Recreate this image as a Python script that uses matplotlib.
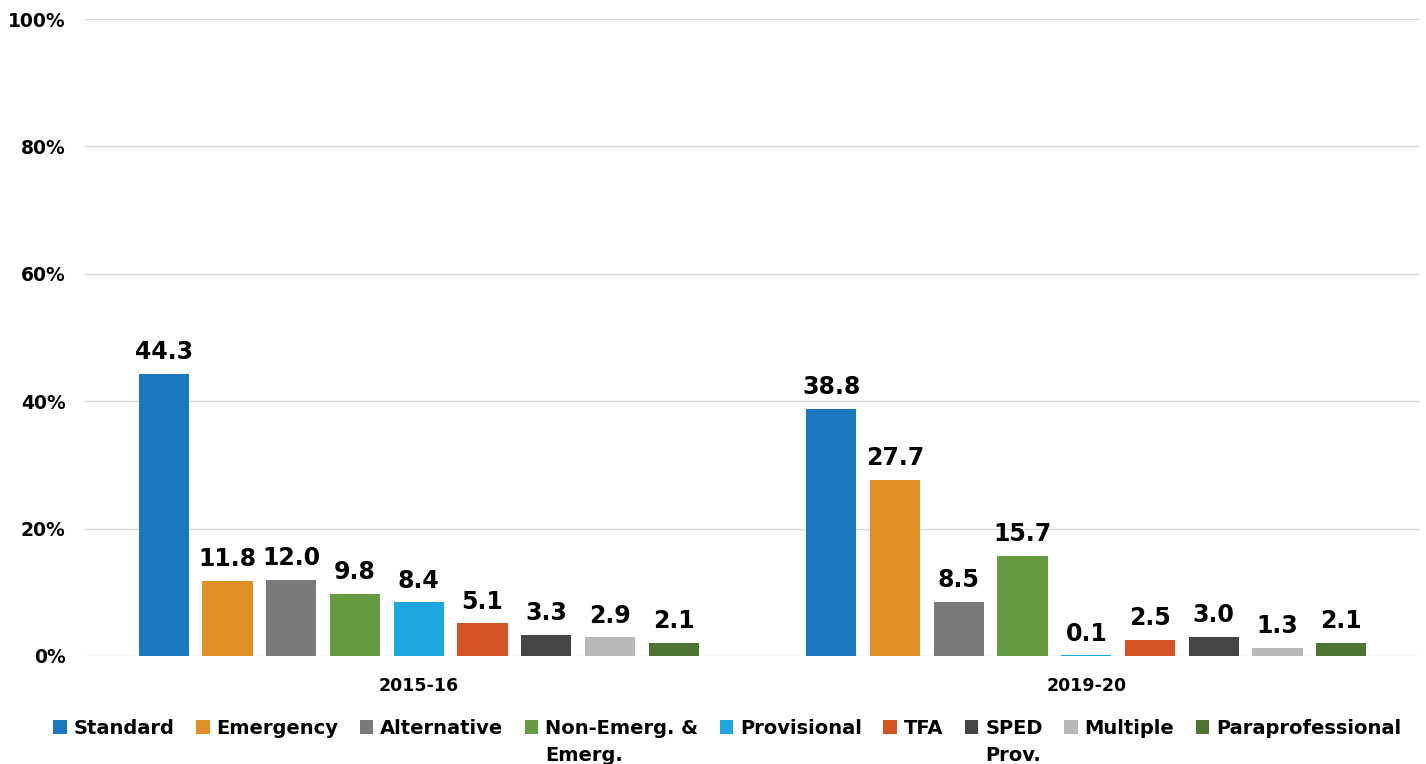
import numpy as np
import matplotlib
matplotlib.use('Agg')
import matplotlib.pyplot as plt
from matplotlib.ticker import FuncFormatter

# data
years = ['2015-16', '2019-20']
series = ['Standard', 'Emergency', 'Alternative', 'Non-Emerg. &\nEmerg.', 'Provisional',
          'TFA', 'SPED\nProv.', 'Multiple', 'Paraprofessional']
vals_2015 = [44.3, 11.8, 12.0, 9.8, 8.4, 5.1, 3.3, 2.9, 2.1]
vals_2019 = [38.8, 27.7, 8.5, 15.7, 0.1, 2.5, 3.0, 1.3, 2.1]
colors = ['#1B78BF', '#E08F27', '#7A7A7A', '#649A40', '#1EA6E0',
          '#D35322', '#454545', '#B9B9B9', '#4E7431']

plt.rcParams['font.family'] = ['DejaVu Sans']
plt.rcParams['font.weight'] = 'bold'

fig = plt.figure(figsize=(14.26, 7.64), dpi=100)
ax = fig.add_axes([0.0596, 0.1414, 0.9362, 0.8337])

x = np.arange(len(years))
slot = 0.0955
width = 0.075
for i, name in enumerate(series):
    offs = (i - (len(series) - 1) / 2) * slot
    bars = ax.bar(x + offs, [vals_2015[i], vals_2019[i]], width=width,
                  color=colors[i], label=name.split('\n')[0], zorder=3)
    ax.bar_label(bars, labels=[f'{v:.1f}' for v in (vals_2015[i], vals_2019[i])],
                 padding=7, fontsize=17, fontweight='bold', color='black')

ax.set_xlim(-0.5, 1.5)
ax.set_ylim(0, 100)
ax.set_yticks([0, 20, 40, 60, 80, 100])
ax.yaxis.set_major_formatter(FuncFormatter(lambda v, p: f'{v:.0f}%'))
ax.set_xticks(x)
ax.set_xticklabels(years)
ax.tick_params(axis='both', length=0)
ax.tick_params(axis='y', labelsize=13.5, pad=14)
ax.tick_params(axis='x', labelsize=12.5, pad=15)
ax.grid(axis='y', color='#D9D9D9', linewidth=1, zorder=0)
for s in ['top', 'right', 'left', 'bottom']:
    ax.spines[s].set_visible(False)

leg = fig.legend(loc='upper center', bbox_to_anchor=(0.51, 0.069), ncol=9, frameon=False,
                 fontsize=14, handlelength=0.7, handleheight=0.7, handletextpad=0.35,
                 columnspacing=1.1, borderaxespad=0)

# second lines of wrapped legend labels, placed under the first line
fig.canvas.draw()
inv = fig.transFigure.inverted()
for t, name in zip(leg.get_texts(), series):
    if '\n' in name:
        bb = t.get_window_extent()
        x0, y0 = inv.transform((bb.x0, bb.y0))
        fig.text(x0, y0 - 0.01, name.split('\n')[1], fontsize=14, fontweight='bold',
                 ha='left', va='top')

fig.savefig('out.png', dpi=100)
